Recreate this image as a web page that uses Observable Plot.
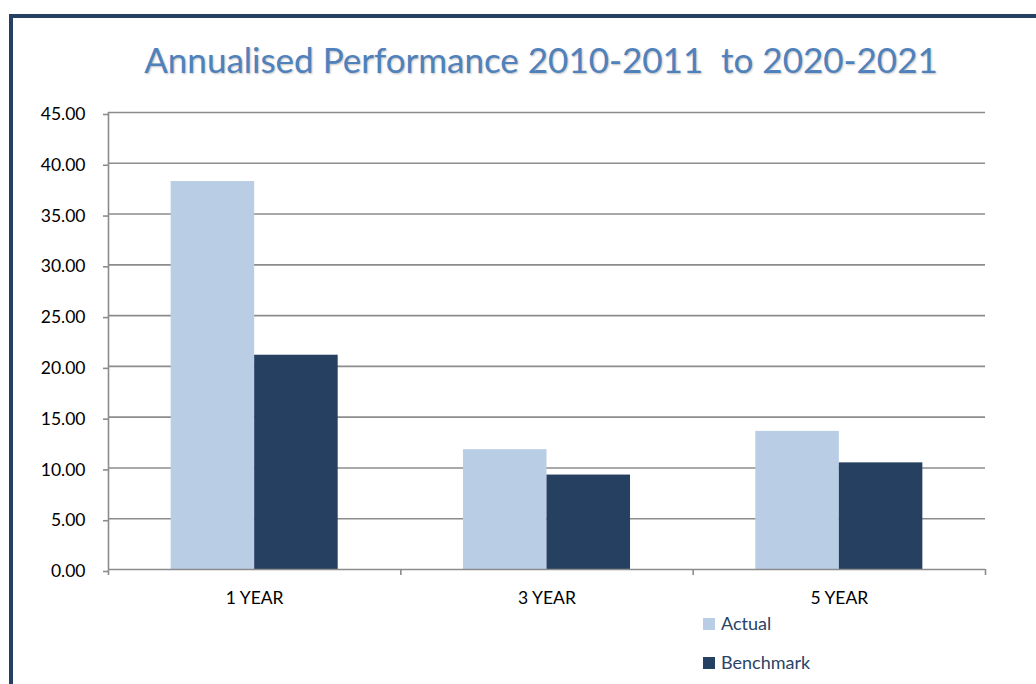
<!DOCTYPE html>
<html>
<head>
<meta charset="utf-8">
<script src="https://cdn.jsdelivr.net/npm/d3@7"></script>
<script src="https://cdn.jsdelivr.net/npm/@observablehq/plot@0.6"></script>
<style>
  html, body { margin: 0; padding: 0; background: #fff; overflow: hidden; }
  #wrap { position: relative; width: 1036px; height: 684px; overflow: hidden; font-family: Lato, "Open Sans", sans-serif; }
  #frame { position: absolute; left: 9px; top: 14px; width: 1200px; height: 900px; border: 4px solid #254061; box-sizing: border-box; }
  #title { position: absolute; left: 0; top: 42px; width: 1082px; text-align: center; font-size: 35px; line-height: 35px; color: #4F81BD; text-shadow: 1px 1px 2px rgba(0,0,0,0.25); white-space: pre; }
  #chart { position: absolute; left: 0; top: 0; }
  .leg { position: absolute; left: 703px; font-size: 18px; line-height: 18px; color: #2A4466; }
  .leg .sw { position: absolute; left: 0; width: 12px; height: 12px; }
  .leg .lb { position: absolute; left: 18px; white-space: nowrap; }
</style>
</head>
<body>
<div id="wrap">
  <div id="frame"></div>
  <div id="chart"></div>
  <div id="title"></div>
  <div id="legend"></div>
</div>
<script>
// ---- data ----
const titleText = "Annualised Performance 2010-2011  to 2020-2021";
const categories = ["1 YEAR", "3 YEAR", "5 YEAR"];
const series = ["Actual", "Benchmark"];
const actual = [38.2, 11.8, 13.6];
const benchmark = [21.1, 9.3, 10.5];
const yTicks = [0, 5, 10, 15, 20, 25, 30, 35, 40, 45];
const colors = ["#B9CDE5", "#254061"];

// ---- layout table (Excel clustered column, gap width 150%) ----
const values = [actual, benchmark];
const gapWidth = 1.5;
const barW = 1 / (series.length + gapWidth);
const rows = categories.flatMap((c, i) =>
  series.map((s, j) => ({
    category: c,
    series: s,
    value: values[j][i],
    x1: i + (gapWidth * barW) / 2 + j * barW,
    x2: i + (gapWidth * barW) / 2 + (j + 1) * barW
  }))
);
const boundaries = d3.range(categories.length + 1);
const centers = categories.map((c, i) => i + 0.5);

const gridColor = "#8c8c8c";
const gridWidth = 1.6;

const chart = Plot.plot({
  width: 1036,
  height: 684,
  marginLeft: 108,
  marginRight: 51,
  marginTop: 112,
  marginBottom: 115,
  style: { fontFamily: "Lato, 'Open Sans', sans-serif", fontSize: "17.5px", color: "#000", background: "transparent", overflow: "visible" },
  x: { domain: [0, categories.length], axis: null },
  y: { domain: [yTicks[0], yTicks[yTicks.length - 1]], axis: null },
  color: { domain: series, range: colors },
  marks: [
    Plot.ruleY(yTicks.slice(1), { stroke: gridColor, strokeWidth: gridWidth }),
    Plot.rect(rows, { x1: "x1", x2: "x2", y1: 0, y2: "value", fill: "series" }),
    Plot.ruleX([0], { stroke: gridColor, strokeWidth: gridWidth }),
    Plot.ruleY([0], { stroke: gridColor, strokeWidth: gridWidth }),
    Plot.axisY(yTicks, { label: null, tickSize: 5, tickPadding: 18, tickFormat: d => d.toFixed(2), stroke: gridColor, strokeWidth: gridWidth, fill: "#000", dy: 2 }),
    Plot.axisX(boundaries, { label: null, tickSize: 6, tickFormat: () => "", stroke: gridColor, strokeWidth: gridWidth }),
    Plot.axisX(centers, { label: null, tickSize: 0, tickPadding: 22, tickFormat: d => categories[Math.floor(d)], fill: "#000" })
  ]
});
document.getElementById("chart").appendChild(chart);

document.getElementById("title").textContent = titleText;

const legend = document.getElementById("legend");
series.forEach((s, j) => {
  const item = document.createElement("div");
  item.className = "leg";
  item.style.top = (614 + j * 39) + "px";
  const sw = document.createElement("div");
  sw.className = "sw";
  sw.style.background = colors[j];
  sw.style.top = "4px";
  const lb = document.createElement("div");
  lb.className = "lb";
  lb.textContent = s;
  item.appendChild(sw);
  item.appendChild(lb);
  legend.appendChild(item);
});
</script>
</body>
</html>
